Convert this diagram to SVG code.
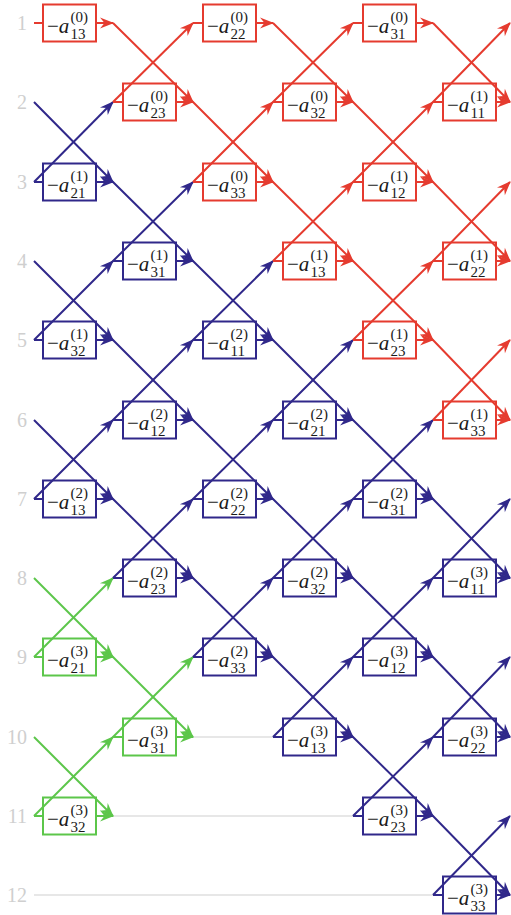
<svg xmlns="http://www.w3.org/2000/svg" width="511" height="915" viewBox="0 0 511 915">
<style>
.r{stroke:#e53b2f}.b{stroke:#30288a}.g{stroke:#5cc64a}
.ln{fill:none;stroke-width:2}
.r.ln{marker-mid:url(#aR);marker-end:url(#aR)}
.b.ln{marker-mid:url(#aB);marker-end:url(#aB)}
.g.ln{marker-mid:url(#aG);marker-end:url(#aG)}
.in{fill:none;stroke-width:2}
.grey{stroke:#cfcfcf;stroke-width:1.2;fill:none}
rect{fill:none;stroke-width:2}
text{font-family:"Liberation Serif","Times New Roman",serif;fill:#1a1a1a}
.t{font-size:21px}
.s{font-size:15px}
.i{font-style:italic}
.lbl{font-size:20px;fill:#cfcfcf;text-anchor:end}
</style>
<defs>
<marker id="aR" markerUnits="userSpaceOnUse" orient="auto" markerWidth="20" markerHeight="20" overflow="visible"><path d="M1,0 L-13,-5.5 L-8.5,0 L-13,5.5 Z" fill="#e53b2f"/></marker>
<marker id="aB" markerUnits="userSpaceOnUse" orient="auto" markerWidth="20" markerHeight="20" overflow="visible"><path d="M1,0 L-13,-5.5 L-8.5,0 L-13,5.5 Z" fill="#30288a"/></marker>
<marker id="aG" markerUnits="userSpaceOnUse" orient="auto" markerWidth="20" markerHeight="20" overflow="visible"><path d="M1,0 L-13,-5.5 L-8.5,0 L-13,5.5 Z" fill="#5cc64a"/></marker>
</defs>
<g id="labels">
<text class="lbl" x="27" y="30">1</text>
<text class="lbl" x="27" y="109">2</text>
<text class="lbl" x="27" y="189">3</text>
<text class="lbl" x="27" y="268">4</text>
<text class="lbl" x="27" y="347">5</text>
<text class="lbl" x="27" y="427">6</text>
<text class="lbl" x="27" y="506">7</text>
<text class="lbl" x="27" y="585">8</text>
<text class="lbl" x="27" y="664">9</text>
<text class="lbl" x="27" y="744">10</text>
<text class="lbl" x="27" y="823">11</text>
<text class="lbl" x="27" y="902">12</text>
</g>
<g id="connectors">
<line class="grey" x1="193" y1="737" x2="273" y2="737"/>
<line class="grey" x1="113" y1="816" x2="353" y2="816"/>
<line class="grey" x1="34" y1="895" x2="433" y2="895"/>
<polyline class="r ln" points="113,23 193,102 273,182 353,261 433,340 510,420"/>
<polyline class="r ln" points="273,23 353,102 433,182 510,261"/>
<polyline class="r ln" points="433,23 510,102"/>
<polyline class="b ln" points="34,102 113,182 193,261 273,340 353,420 433,499 510,578"/>
<polyline class="b ln" points="34,261 113,340 193,420 273,499 353,578 433,657 510,737"/>
<polyline class="b ln" points="34,420 113,499 193,578 273,657 353,737 433,816 510,895"/>
<polyline class="g ln" points="34,578 113,657 193,737"/>
<polyline class="g ln" points="34,737 113,816"/>
<polyline class="b ln" points="34,182 113,102"/>
<polyline class="r ln" points="113,102 193,23"/>
<polyline class="b ln" points="34,340 113,261 193,182"/>
<polyline class="r ln" points="193,182 273,102 353,23"/>
<polyline class="b ln" points="34,499 113,420 193,340 273,261"/>
<polyline class="r ln" points="273,261 353,182 433,102 510,23"/>
<polyline class="g ln" points="34,657 113,578"/>
<polyline class="b ln" points="113,578 193,499 273,420 353,340"/>
<polyline class="r ln" points="353,340 433,261 510,182"/>
<polyline class="g ln" points="34,816 113,737 193,657"/>
<polyline class="b ln" points="193,657 273,578 353,499 433,420"/>
<polyline class="r ln" points="433,420 510,340"/>
<polyline class="b ln" points="273,737 353,657 433,578 510,499"/>
<polyline class="b ln" points="353,816 433,737 510,657"/>
<polyline class="b ln" points="433,895 510,816"/>
<g class="r">
<path class="in" d="M34,23H43M113,102H123M193,23H203M193,182H203M273,102H283M273,261H283M353,23H363M353,182H363M353,340H363M433,102H443M433,261H443M433,420H443"/>
<polyline class="r ln" points="96,23 113,23"/>
<polyline class="r ln" points="176,102 193,102"/>
<polyline class="r ln" points="256,23 273,23"/>
<polyline class="r ln" points="256,182 273,182"/>
<polyline class="r ln" points="336,102 353,102"/>
<polyline class="r ln" points="336,261 353,261"/>
<polyline class="r ln" points="416,23 433,23"/>
<polyline class="r ln" points="416,182 433,182"/>
<polyline class="r ln" points="416,340 433,340"/>
<polyline class="r ln" points="496,102 510,102"/>
<polyline class="r ln" points="496,261 510,261"/>
<polyline class="r ln" points="496,420 510,420"/>
</g>
<g class="b">
<path class="in" d="M34,182H43M34,340H43M34,499H43M113,261H123M113,420H123M113,578H123M193,340H203M193,499H203M193,657H203M273,420H283M273,578H283M273,737H283M353,499H363M353,657H363M353,816H363M433,578H443M433,737H443M433,895H443"/>
<polyline class="b ln" points="96,182 113,182"/>
<polyline class="b ln" points="96,340 113,340"/>
<polyline class="b ln" points="96,499 113,499"/>
<polyline class="b ln" points="176,261 193,261"/>
<polyline class="b ln" points="176,420 193,420"/>
<polyline class="b ln" points="176,578 193,578"/>
<polyline class="b ln" points="256,340 273,340"/>
<polyline class="b ln" points="256,499 273,499"/>
<polyline class="b ln" points="256,657 273,657"/>
<polyline class="b ln" points="336,420 353,420"/>
<polyline class="b ln" points="336,578 353,578"/>
<polyline class="b ln" points="336,737 353,737"/>
<polyline class="b ln" points="416,499 433,499"/>
<polyline class="b ln" points="416,657 433,657"/>
<polyline class="b ln" points="416,816 433,816"/>
<polyline class="b ln" points="496,578 510,578"/>
<polyline class="b ln" points="496,737 510,737"/>
<polyline class="b ln" points="496,895 510,895"/>
</g>
<g class="g">
<path class="in" d="M34,657H43M34,816H43M113,737H123"/>
<polyline class="g ln" points="96,657 113,657"/>
<polyline class="g ln" points="96,816 113,816"/>
<polyline class="g ln" points="176,737 193,737"/>
</g>
</g>
<g id="a13-0"><rect class="r" x="43" y="4.5" width="53" height="37"/><text class="t" x="47" y="33">−<tspan class="i">a</tspan><tspan class="s" x="70.5" y="22">(0)</tspan><tspan class="s" x="70.5" y="39">13</tspan></text></g>
<g id="a21-1"><rect class="b" x="43" y="163.5" width="53" height="37"/><text class="t" x="47" y="192">−<tspan class="i">a</tspan><tspan class="s" x="70.5" y="181">(1)</tspan><tspan class="s" x="70.5" y="198">21</tspan></text></g>
<g id="a32-1"><rect class="b" x="43" y="321.5" width="53" height="37"/><text class="t" x="47" y="350">−<tspan class="i">a</tspan><tspan class="s" x="70.5" y="339">(1)</tspan><tspan class="s" x="70.5" y="356">32</tspan></text></g>
<g id="a13-2"><rect class="b" x="43" y="480.5" width="53" height="37"/><text class="t" x="47" y="509">−<tspan class="i">a</tspan><tspan class="s" x="70.5" y="498">(2)</tspan><tspan class="s" x="70.5" y="515">13</tspan></text></g>
<g id="a21-3"><rect class="g" x="43" y="638.5" width="53" height="37"/><text class="t" x="47" y="667">−<tspan class="i">a</tspan><tspan class="s" x="70.5" y="656">(3)</tspan><tspan class="s" x="70.5" y="673">21</tspan></text></g>
<g id="a32-3"><rect class="g" x="43" y="797.5" width="53" height="37"/><text class="t" x="47" y="826">−<tspan class="i">a</tspan><tspan class="s" x="70.5" y="815">(3)</tspan><tspan class="s" x="70.5" y="832">32</tspan></text></g>
<g id="a23-0"><rect class="r" x="123" y="83.5" width="53" height="37"/><text class="t" x="127" y="112">−<tspan class="i">a</tspan><tspan class="s" x="150.5" y="101">(0)</tspan><tspan class="s" x="150.5" y="118">23</tspan></text></g>
<g id="a31-1"><rect class="b" x="123" y="242.5" width="53" height="37"/><text class="t" x="127" y="271">−<tspan class="i">a</tspan><tspan class="s" x="150.5" y="260">(1)</tspan><tspan class="s" x="150.5" y="277">31</tspan></text></g>
<g id="a12-2"><rect class="b" x="123" y="401.5" width="53" height="37"/><text class="t" x="127" y="430">−<tspan class="i">a</tspan><tspan class="s" x="150.5" y="419">(2)</tspan><tspan class="s" x="150.5" y="436">12</tspan></text></g>
<g id="a23-2"><rect class="b" x="123" y="559.5" width="53" height="37"/><text class="t" x="127" y="588">−<tspan class="i">a</tspan><tspan class="s" x="150.5" y="577">(2)</tspan><tspan class="s" x="150.5" y="594">23</tspan></text></g>
<g id="a31-3"><rect class="g" x="123" y="718.5" width="53" height="37"/><text class="t" x="127" y="747">−<tspan class="i">a</tspan><tspan class="s" x="150.5" y="736">(3)</tspan><tspan class="s" x="150.5" y="753">31</tspan></text></g>
<g id="a22-0"><rect class="r" x="203" y="4.5" width="53" height="37"/><text class="t" x="207" y="33">−<tspan class="i">a</tspan><tspan class="s" x="230.5" y="22">(0)</tspan><tspan class="s" x="230.5" y="39">22</tspan></text></g>
<g id="a33-0"><rect class="r" x="203" y="163.5" width="53" height="37"/><text class="t" x="207" y="192">−<tspan class="i">a</tspan><tspan class="s" x="230.5" y="181">(0)</tspan><tspan class="s" x="230.5" y="198">33</tspan></text></g>
<g id="a11-2"><rect class="b" x="203" y="321.5" width="53" height="37"/><text class="t" x="207" y="350">−<tspan class="i">a</tspan><tspan class="s" x="230.5" y="339">(2)</tspan><tspan class="s" x="230.5" y="356">11</tspan></text></g>
<g id="a22-2"><rect class="b" x="203" y="480.5" width="53" height="37"/><text class="t" x="207" y="509">−<tspan class="i">a</tspan><tspan class="s" x="230.5" y="498">(2)</tspan><tspan class="s" x="230.5" y="515">22</tspan></text></g>
<g id="a33-2"><rect class="b" x="203" y="638.5" width="53" height="37"/><text class="t" x="207" y="667">−<tspan class="i">a</tspan><tspan class="s" x="230.5" y="656">(2)</tspan><tspan class="s" x="230.5" y="673">33</tspan></text></g>
<g id="a32-0"><rect class="r" x="283" y="83.5" width="53" height="37"/><text class="t" x="287" y="112">−<tspan class="i">a</tspan><tspan class="s" x="310.5" y="101">(0)</tspan><tspan class="s" x="310.5" y="118">32</tspan></text></g>
<g id="a13-1"><rect class="r" x="283" y="242.5" width="53" height="37"/><text class="t" x="287" y="271">−<tspan class="i">a</tspan><tspan class="s" x="310.5" y="260">(1)</tspan><tspan class="s" x="310.5" y="277">13</tspan></text></g>
<g id="a21-2"><rect class="b" x="283" y="401.5" width="53" height="37"/><text class="t" x="287" y="430">−<tspan class="i">a</tspan><tspan class="s" x="310.5" y="419">(2)</tspan><tspan class="s" x="310.5" y="436">21</tspan></text></g>
<g id="a32-2"><rect class="b" x="283" y="559.5" width="53" height="37"/><text class="t" x="287" y="588">−<tspan class="i">a</tspan><tspan class="s" x="310.5" y="577">(2)</tspan><tspan class="s" x="310.5" y="594">32</tspan></text></g>
<g id="a13-3"><rect class="b" x="283" y="718.5" width="53" height="37"/><text class="t" x="287" y="747">−<tspan class="i">a</tspan><tspan class="s" x="310.5" y="736">(3)</tspan><tspan class="s" x="310.5" y="753">13</tspan></text></g>
<g id="a31-0"><rect class="r" x="363" y="4.5" width="53" height="37"/><text class="t" x="367" y="33">−<tspan class="i">a</tspan><tspan class="s" x="390.5" y="22">(0)</tspan><tspan class="s" x="390.5" y="39">31</tspan></text></g>
<g id="a12-1"><rect class="r" x="363" y="163.5" width="53" height="37"/><text class="t" x="367" y="192">−<tspan class="i">a</tspan><tspan class="s" x="390.5" y="181">(1)</tspan><tspan class="s" x="390.5" y="198">12</tspan></text></g>
<g id="a23-1"><rect class="r" x="363" y="321.5" width="53" height="37"/><text class="t" x="367" y="350">−<tspan class="i">a</tspan><tspan class="s" x="390.5" y="339">(1)</tspan><tspan class="s" x="390.5" y="356">23</tspan></text></g>
<g id="a31-2"><rect class="b" x="363" y="480.5" width="53" height="37"/><text class="t" x="367" y="509">−<tspan class="i">a</tspan><tspan class="s" x="390.5" y="498">(2)</tspan><tspan class="s" x="390.5" y="515">31</tspan></text></g>
<g id="a12-3"><rect class="b" x="363" y="638.5" width="53" height="37"/><text class="t" x="367" y="667">−<tspan class="i">a</tspan><tspan class="s" x="390.5" y="656">(3)</tspan><tspan class="s" x="390.5" y="673">12</tspan></text></g>
<g id="a23-3"><rect class="b" x="363" y="797.5" width="53" height="37"/><text class="t" x="367" y="826">−<tspan class="i">a</tspan><tspan class="s" x="390.5" y="815">(3)</tspan><tspan class="s" x="390.5" y="832">23</tspan></text></g>
<g id="a11-1"><rect class="r" x="443" y="83.5" width="53" height="37"/><text class="t" x="447" y="112">−<tspan class="i">a</tspan><tspan class="s" x="470.5" y="101">(1)</tspan><tspan class="s" x="470.5" y="118">11</tspan></text></g>
<g id="a22-1"><rect class="r" x="443" y="242.5" width="53" height="37"/><text class="t" x="447" y="271">−<tspan class="i">a</tspan><tspan class="s" x="470.5" y="260">(1)</tspan><tspan class="s" x="470.5" y="277">22</tspan></text></g>
<g id="a33-1"><rect class="r" x="443" y="401.5" width="53" height="37"/><text class="t" x="447" y="430">−<tspan class="i">a</tspan><tspan class="s" x="470.5" y="419">(1)</tspan><tspan class="s" x="470.5" y="436">33</tspan></text></g>
<g id="a11-3"><rect class="b" x="443" y="559.5" width="53" height="37"/><text class="t" x="447" y="588">−<tspan class="i">a</tspan><tspan class="s" x="470.5" y="577">(3)</tspan><tspan class="s" x="470.5" y="594">11</tspan></text></g>
<g id="a22-3"><rect class="b" x="443" y="718.5" width="53" height="37"/><text class="t" x="447" y="747">−<tspan class="i">a</tspan><tspan class="s" x="470.5" y="736">(3)</tspan><tspan class="s" x="470.5" y="753">22</tspan></text></g>
<g id="a33-3"><rect class="b" x="443" y="876.5" width="53" height="37"/><text class="t" x="447" y="905">−<tspan class="i">a</tspan><tspan class="s" x="470.5" y="894">(3)</tspan><tspan class="s" x="470.5" y="911">33</tspan></text></g>
</svg>
